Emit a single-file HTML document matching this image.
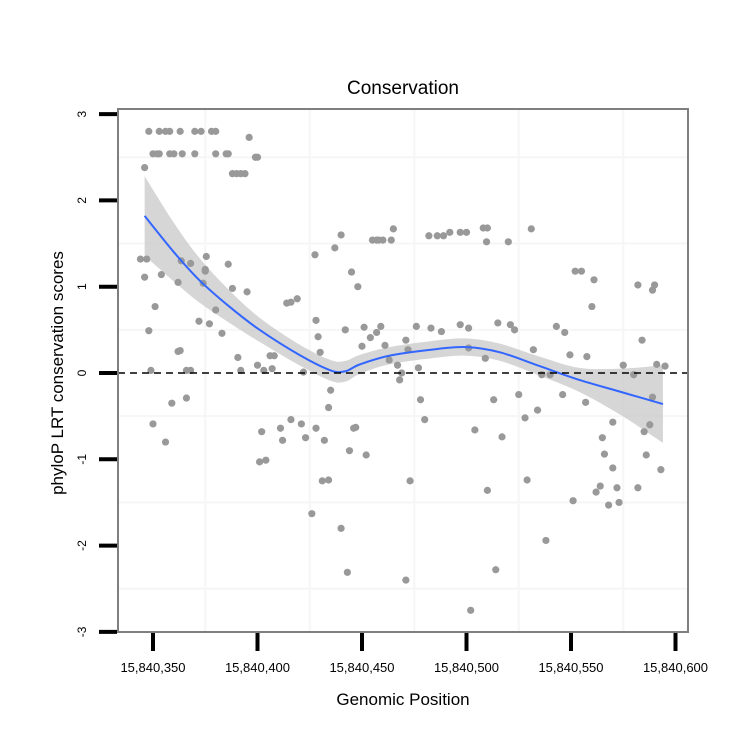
<!DOCTYPE html>
<html><head><meta charset="utf-8"><style>
body{margin:0;background:#fff;}
svg text{font-family:"Liberation Sans",sans-serif;}
</style></head><body>
<svg id="c" width="750" height="750" xmlns="http://www.w3.org/2000/svg"></svg>
<script>
const xTicks=[15840350,15840400,15840450,15840500,15840550,15840600];
const xTickLabels=["15,840,350","15,840,400","15,840,450","15,840,500","15,840,550","15,840,600"];
const yTicks=[-3,-2,-1,0,1,2,3];
const ptX=[348,353,356,358,363,370,373,378,380,350,352,353,358,360,364,370,380,385,386,388,390,392,394,396,399,400,346,
344,347,346,348,349,351,354,350,356,359,362,362,363,363.5,366,368,366,368,372,374,375,375.5,375,377,380,383,386,388,390.6,392,395,
400,403,402,401,404,406,408,407,414,416,419,411,412,416,421,423,422,427.5,428,429,426,428,430,431,432,434,434,435,437,440,440,442,
443,444,445,446,447,448,450,451,452,455,457,458,460,464,465,454,457,459,461,463,467,468,469,471,472,471,473,476,477,478,480,482,
486,489,492,497,500,502,501,504,508,509.6,510,513,514,515,510,509,517,520,521,523,525,528,529,531,532,534,536,538,540,543,546,547,
549.5,551,552,555,557,557.6,560,561,562,564,565,566,568,570,572,573,570,575,580,582,582,584,585,586,587.7,589,590,591,593,595,589,483,488,497,501];
const ptY=[2.8,2.8,2.8,2.8,2.8,2.8,2.8,2.8,2.8,2.54,2.54,2.54,2.54,2.54,2.54,2.54,2.54,2.54,2.54,2.31,2.31,2.31,2.31,2.73,2.5,2.5,2.38,
1.32,1.32,1.11,0.49,0.03,0.77,1.14,-0.59,-0.8,-0.35,1.05,0.25,0.26,1.3,0.03,1.27,-0.29,0.03,0.6,1.04,1.2,1.35,1.18,0.57,0.73,0.46,1.26,0.98,0.18,0.03,0.94,
0.09,0.03,-0.68,-1.03,-1.01,0.2,0.2,0.05,0.81,0.82,0.86,-0.64,-0.78,-0.54,-0.59,-0.75,0.01,1.37,0.61,0.42,-1.63,-0.64,0.24,-1.25,-0.78,-1.24,-0.4,-0.2,1.45,1.6,-1.8,0.5,
-2.31,-0.9,1.17,-0.64,-0.63,1.0,0.31,0.53,-0.95,1.54,1.54,1.54,1.54,1.54,1.67,0.41,0.47,0.54,0.32,0.15,0.09,-0.08,0.0,0.38,0.27,-2.4,-1.25,0.54,0.06,-0.31,-0.54,1.59,
1.59,1.59,1.63,1.63,1.63,-2.75,0.29,-0.66,1.68,1.52,1.68,-0.31,-2.28,0.58,-1.36,0.17,-0.74,1.52,0.56,0.5,-0.25,-0.52,-1.24,1.67,0.27,-0.43,-0.02,-1.94,-0.02,0.54,-0.25,0.47,
0.21,-1.48,1.18,1.18,-0.34,0.19,0.77,1.08,-1.38,-1.31,-0.75,-0.94,-1.53,-1.1,-1.33,-1.5,-0.57,0.09,-0.02,1.02,-1.33,0.38,-0.68,-0.95,-0.6,0.96,1.02,0.1,-1.12,0.08,-0.28,0.52,0.48,0.56,0.52];
const fitX=[346,360,372,386,401,420,435,442,449,463,483,500,516,535,554,574,594];
const fitY=[1.82,1.4,1.08,0.78,0.5,0.21,0.03,0.02,0.1,0.2,0.27,0.3,0.24,0.08,-0.08,-0.22,-0.36];
const fitHalf=[0.46,0.34,0.26,0.19,0.14,0.12,0.12,0.12,0.11,0.1,0.1,0.1,0.1,0.11,0.14,0.27,0.45];
const NS="http://www.w3.org/2000/svg",svg=document.getElementById('c');
const L=118,R=688,T=109,B=632;
const X=v=>153+(v-15840350)*2.09;
const Y=v=>373-v*86.3;
function el(t,a,p){const e=document.createElementNS(NS,t);for(const k in a)e.setAttribute(k,a[k]);(p||svg).appendChild(e);return e;}
function smooth(P){let d='M'+P[0][0]+','+P[0][1];
for(let i=0;i<P.length-1;i++){const p0=P[Math.max(i-1,0)],p1=P[i],p2=P[i+1],p3=P[Math.min(i+2,P.length-1)];
d+='C'+(p1[0]+(p2[0]-p0[0])/6)+','+(p1[1]+(p2[1]-p0[1])/6)+' '+(p2[0]-(p3[0]-p1[0])/6)+','+(p2[1]-(p3[1]-p1[1])/6)+' '+p2[0]+','+p2[1];}
return d;}
const panel=el('rect',{x:L,y:T,width:R-L,height:B-T,fill:'#fff'});


const grid=el('g',{stroke:'#f6f6f6','stroke-width':2});


for(let v=-2.5;v<=2.5;v+=1)el('line',{x1:L,x2:R,y1:Y(v),y2:Y(v)},grid);
for(let v=15840325;v<=15840625;v+=50)if(X(v)>L&&X(v)<R)el('line',{y1:T,y2:B,x1:X(v),x2:X(v)},grid);
const up=fitX.map((x,i)=>[X(15840000+x),Y(fitY[i]+fitHalf[i])]);
const lo=fitX.map((x,i)=>[X(15840000+x),Y(fitY[i]-fitHalf[i])]).reverse();
const band=el('path',{d:smooth(up)+'L'+smooth(lo).slice(1)+'Z',fill:'#cccccc','fill-opacity':0.8});


const pts=el('g',{fill:'#999999'});


ptX.forEach((x,i)=>{const c=el('circle',{cx:X(15840000+x),cy:Y(ptY[i]),r:3.6},pts);

});
const line=el('path',{d:smooth(fitX.map((x,i)=>[X(15840000+x),Y(fitY[i])])),fill:'none',stroke:'#3366ff','stroke-width':2});


const zl=el('line',{x1:L,x2:R,y1:Y(0),y2:Y(0),stroke:'#000','stroke-width':1.5,'stroke-dasharray':'7,5'});


const bd=el('rect',{x:L,y:T,width:R-L,height:B-T,fill:'none',stroke:'#7f7f7f','stroke-width':2});


yTicks.forEach(v=>{const t=el('line',{x1:99,x2:117,y1:Y(v),y2:Y(v),stroke:'#000','stroke-width':4});


const tx=el('text',{x:0,y:0,'font-size':12,'text-anchor':'middle',transform:`translate(86,${Y(v)}) rotate(-90)`});
tx.textContent=v;

});
xTicks.forEach((v,i)=>{const t=el('line',{x1:X(v),x2:X(v),y1:633,y2:651,stroke:'#000','stroke-width':4});


const tx=el('text',{x:X(v),y:672,'font-size':13,'text-anchor':'middle'});
tx.textContent=xTickLabels[i];

});
const ti=el('text',{x:403,y:94,'font-size':19,'text-anchor':'middle'});ti.textContent='Conservation';


const xt=el('text',{x:403,y:705,'font-size':17,'text-anchor':'middle'});xt.textContent='Genomic Position';


const yt=el('text',{x:0,y:0,'font-size':17,'text-anchor':'middle',transform:'translate(63,373) rotate(-90)'});yt.textContent='phyloP LRT conservation scores';


</script>
</body></html>
